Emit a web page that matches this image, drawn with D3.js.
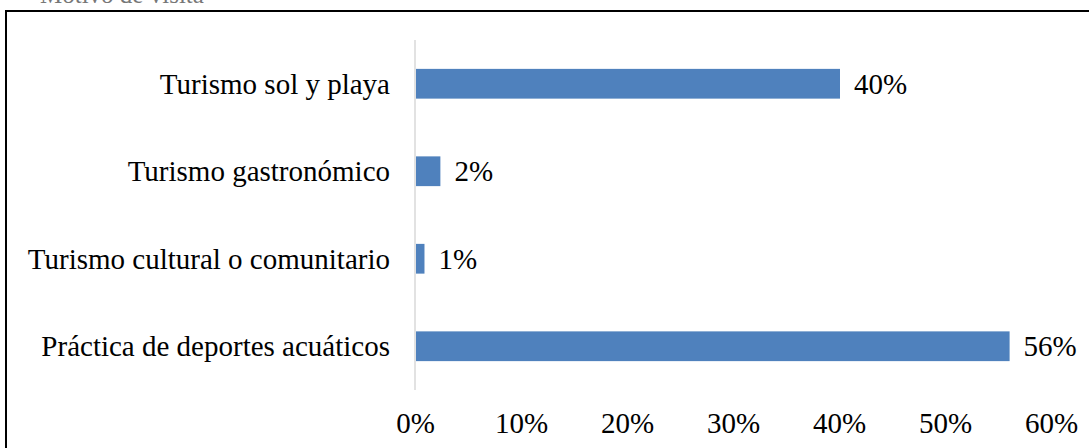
<!DOCTYPE html>
<html>
<head>
<meta charset="utf-8">
<script src="https://cdn.jsdelivr.net/npm/d3@7"></script>
<style>
  body { margin: 0; background: #fff; }
  svg text { font-family: "Liberation Serif", "Times New Roman", serif; }
</style>
</head>
<body>
<div id="chart"></div>
<script>
// data
const categories = ['Turismo sol y playa', 'Turismo gastronómico', 'Turismo cultural o comunitario', 'Práctica de deportes acuáticos'];
const values = [40, 2.3, 0.8, 56];
const valueLabels = ['40%', '2%', '1%', '56%'];
const ticks = [0, 10, 20, 30, 40, 50, 60];

let width = 1089,
    height = 448,
    margin = {top: 40, left: 415, right: 38, bottom: 58},
    fontSize = 29;

let svg = d3.select('#chart')
    .append('svg')
    .attr('width', width)
    .attr('height', height);

// caption above the frame, mostly outside the page like in the source
svg.append('text')
    .attr('x', 40)
    .attr('y', 3)
    .attr('font-size', 25)
    .attr('fill', '#777')
    .text('Motivo de visita');

// frame
svg.append('rect')
    .attr('x', 6)
    .attr('y', 11)
    .attr('width', width + 10)
    .attr('height', height + 10)
    .attr('fill', 'none')
    .attr('stroke', '#000')
    .attr('stroke-width', 2);

let xScale = d3.scaleLinear()
    .domain([0, 60])
    .range([margin.left, width - margin.right]);

let yScale = d3.scaleBand()
    .domain(categories)
    .range([margin.top, height - margin.bottom])
    .paddingInner(0.66)
    .paddingOuter(0.33);

// bars
svg.selectAll('.bar')
    .data(categories).enter()
    .append('rect')
    .attr('class', 'bar')
    .attr('x', xScale(0) + 1)
    .attr('y', d => yScale(d))
    .attr('width', (d, i) => xScale(values[i]) - xScale(0))
    .attr('height', yScale.bandwidth())
    .attr('fill', '#4F81BD');

// vertical axis line
svg.append('line')
    .attr('x1', xScale(0))
    .attr('x2', xScale(0))
    .attr('y1', margin.top)
    .attr('y2', height - margin.bottom)
    .attr('stroke', '#d9d9d9')
    .attr('stroke-width', 1.5);

// category labels
svg.selectAll('.cat')
    .data(categories).enter()
    .append('text')
    .attr('class', 'cat')
    .attr('x', xScale(0) - 25)
    .attr('y', d => yScale(d) + yScale.bandwidth() / 2)
    .attr('dy', '0.35em')
    .attr('text-anchor', 'end')
    .attr('font-size', fontSize)
    .text(d => d);

// value labels
svg.selectAll('.val')
    .data(categories).enter()
    .append('text')
    .attr('class', 'val')
    .attr('x', (d, i) => xScale(values[i]) + 15)
    .attr('y', d => yScale(d) + yScale.bandwidth() / 2)
    .attr('dy', '0.35em')
    .attr('font-size', fontSize)
    .text((d, i) => valueLabels[i]);

// x axis
let xAxis = svg.append('g')
    .attr('transform', `translate(0,${height - margin.bottom})`)
    .call(d3.axisBottom(xScale).tickValues(ticks).tickFormat(d => d + '%').tickSize(0).tickPadding(22));
xAxis.select('.domain').remove();
xAxis.selectAll('text')
    .attr('font-size', fontSize)
    .attr('fill', '#000')
    .style('font-family', '"Liberation Serif", "Times New Roman", serif');
</script>
</body>
</html>
